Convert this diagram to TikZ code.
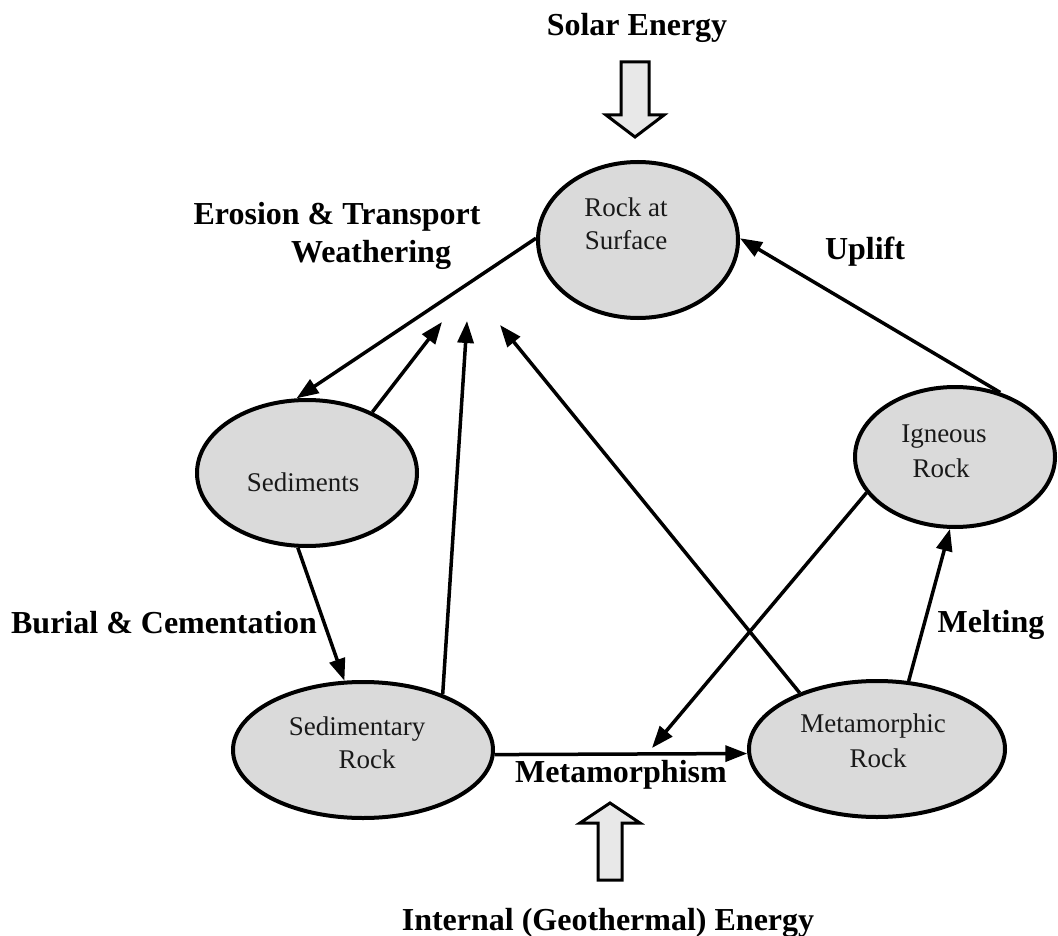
\documentclass[tikz,border=0pt]{standalone}
\usepackage{fontspec}
\setmainfont{Liberation Serif}
\usetikzlibrary{arrows.meta,shapes.geometric}
\definecolor{rockfill}{RGB}{218,218,218}
\definecolor{blockfill}{RGB}{232,232,232}
\tikzset{
  rock/.style={ellipse, draw=black, line width=4pt, fill=rockfill, inner sep=0pt},
  rocktext/.style={anchor=base, font=\fontsize{27}{31}\selectfont, text=black!90, inner sep=0pt},
  proc/.style={anchor=base, font=\fontsize{32}{37}\selectfont\bfseries, inner sep=0pt},
  flow/.style={line width=3.5pt, -{Triangle[length=22pt,width=16pt]}},
  energy/.style={line width=3pt, fill=blockfill, line join=miter},
}
\begin{document}
\begin{tikzpicture}[x=1pt,y=-1pt]
\useasboundingbox[fill=white] (0,0) rectangle (1058,936);

% rock stages
\node[rock, minimum width=200pt, minimum height=156pt] (surface)  at (638,240) {};
\node[rock, minimum width=220pt, minimum height=146pt] (sediments) at (307,473) {};
\node[rock, minimum width=200pt, minimum height=140pt] (igneous)  at (955,457) {};
\node[rock, minimum width=260pt, minimum height=136pt] (sedrock)  at (363,750) {};
\node[rock, minimum width=256pt, minimum height=136pt] (metarock) at (877,749) {};

\node[rocktext] (surfaceA) at (626,217) {Rock at};
\node[rocktext] (surfaceB) at (626,250) {Surface};
\node[rocktext] (sedimentsA) at (303,491) {Sediments};
\node[rocktext] (igneousA) at (944,442) {Igneous};
\node[rocktext] (igneousB) at (941,477) {Rock};
\node[rocktext] (sedrockA) at (357,735) {Sedimentary};
\node[rocktext] (sedrockB) at (367,768) {Rock};
\node[rocktext] (metarockA) at (873,732) {Metamorphic};
\node[rocktext] (metarockB) at (878,767) {Rock};

% process labels
\node[proc] (solar) at (637,36) {Solar Energy};
\node[proc] (erosion) at (337,225) {Erosion \& Transport};
\node[proc] (weathering) at (371,262) {Weathering};
\node[proc] (uplift) at (865,260) {Uplift};
\node[proc] (burial) at (164,633) {Burial \& Cementation};
\node[proc] (melting) at (991,632) {Melting};
\node[proc] (metamorphism) at (621,782) {Metamorphism};
\node[proc] (internal) at (608,930) {Internal (Geothermal) Energy};

% weathering targets
\coordinate (w1) at (442,322);
\coordinate (w2) at (467,321);
\coordinate (w3) at (500,325);
\coordinate (onmeta) at (652,748);

% cycle connectors
\draw[flow] (surface.179) -- (sediments.98);
\draw[flow] (sediments.43) -- (w1);
\draw[flow] (sedrock.35.5) -- (w2);
\draw[flow] (metarock.144) -- (w3);
\draw[flow] (sediments.263) -- (sedrock.105);
\draw[flow] (sedrock.-2) -- (metarock.182);
\draw[flow] (igneous.202) -- (onmeta);
\draw[flow] (metarock.65.6) -- (igneous.266);
\draw[flow] (igneous.55) -- (surface.1);

% energy inputs
\draw[energy] (621,62) -- (649,62) -- (649,115) -- (664,115) -- (635,137)
  -- (606,115) -- (621,115) -- cycle;
\draw[energy] (598,880) -- (622,880) -- (622,823) -- (640,823) -- (610,803)
  -- (580,823) -- (598,823) -- cycle;
\end{tikzpicture}
\end{document}
